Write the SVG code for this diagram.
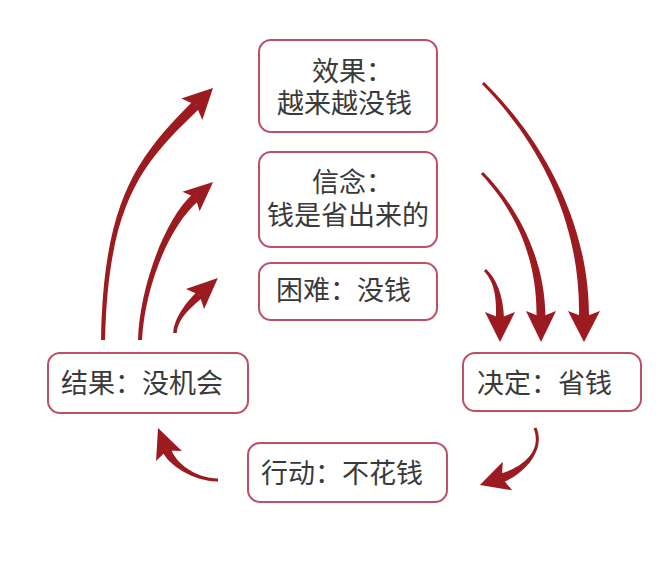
<svg xmlns="http://www.w3.org/2000/svg" width="662" height="570" viewBox="0 0 662 570">
<style>
.box{fill:#ffffff;stroke:#bb5066;stroke-width:2}
.t{font-family:"Noto Sans CJK SC","Noto Sans",sans-serif;font-size:27px;fill:#3a3a3a}
.arr{fill:#9b1b20;stroke:none}
</style>
<rect width="662" height="570" fill="#ffffff"/>
<g id="connectors">
  <!-- A: 结果 -> 效果 -->
  <path class="arr" d="M105,340 C108.5,200 142.8,162.9 199.5,108.6 L192.5,101.4 C137.2,157.1 103.5,200 101,340 Z"/>
  <polygon class="arr" points="213,88 202.3,119.9 196,105 181.3,98.5"/>
  <!-- B: 结果 -> 信念 -->
  <path class="arr" d="M142,340 C144.5,290 167.9,226.7 198.5,200.9 L192.5,194.1 C163.1,221.3 139.5,290 138,340 Z"/>
  <polygon class="arr" points="213.1,181.9 199.6,211.2 195.5,197.5 182.4,191.8"/>
  <!-- C: 结果 -> 困难 -->
  <path class="arr" d="M176.75,333 C178,318 191.4,307.2 202.1,298 L196.7,292 C186.6,301.8 174,318 173.25,333 Z"/>
  <polygon class="arr" points="217.9,278.1 204.1,309 199.4,295 185.9,289"/>
  <!-- D: 效果 -> 决定 -->
  <path class="arr" d="M481.9,84.1 C528.6,131.4 581,210 579,317 L589,317 C589,210 531.4,128.6 484.1,81.9 Z"/>
  <polygon class="arr" points="584,342 568,311 584,317 600,311"/>
  <!-- E: 信念 -> 决定 -->
  <path class="arr" d="M480.9,174.1 C508.6,203.4 537.4,250 536.5,317 L545.5,317 C544.6,250 511.4,200.6 483.1,171.9 Z"/>
  <polygon class="arr" points="541,342 526,311 541,317 556,311"/>
  <!-- F: 困难 -> 决定 -->
  <path class="arr" d="M483.9,271.1 C493.6,281.4 496.8,295 496,318 L504,318 C503.2,295 496.4,278.6 486.1,268.9 Z"/>
  <polygon class="arr" points="500,342 485,312 500,318 515,312"/>
  <!-- G: 决定 -> 行动 -->
  <path class="arr" d="M533.6,428.6 C543.2,452.8 519.7,468.3 500.4,473.6 L503.2,482.2 C521.9,475.1 546.8,451.2 536.4,427.4 Z"/>
  <polygon class="arr" points="479.9,485.1 502.8,461.7 501.8,477.9 512.2,490.3"/>
  <!-- H: 行动 -> 结果 -->
  <path class="arr" d="M218,478.5 C195,478 175.7,463.1 171,448.7 L162.6,452.1 C168.9,465.7 195,482 218,481.5 Z"/>
  <polygon class="arr" points="158,428 181.9,450.9 166.8,450.4 156.1,461.1"/>
</g>
<g id="n-effect">
  <rect class="box" x="259" y="40" width="178" height="92" rx="12"/>
  <text class="t" x="312" y="81">效果：</text>
  <text class="t" x="277" y="113">越来越没钱</text>
</g>
<g id="n-belief">
  <rect class="box" x="259" y="152" width="178" height="95" rx="12"/>
  <text class="t" x="312" y="192">信念：</text>
  <text class="t" x="267" y="225">钱是省出来的</text>
</g>
<g id="n-difficulty">
  <rect class="box" x="259" y="263" width="178" height="57" rx="12"/>
  <text class="t" x="276" y="300">困难：没钱</text>
</g>
<g id="n-result">
  <rect class="box" x="48" y="353" width="200" height="60" rx="12"/>
  <text class="t" x="61" y="393">结果：没机会</text>
</g>
<g id="n-decision">
  <rect class="box" x="463" y="353" width="178" height="58" rx="12"/>
  <text class="t" x="477" y="393">决定：省钱</text>
</g>
<g id="n-action">
  <rect class="box" x="248" y="443" width="199" height="59" rx="12"/>
  <text class="t" x="261" y="483">行动：不花钱</text>
</g>
</svg>
